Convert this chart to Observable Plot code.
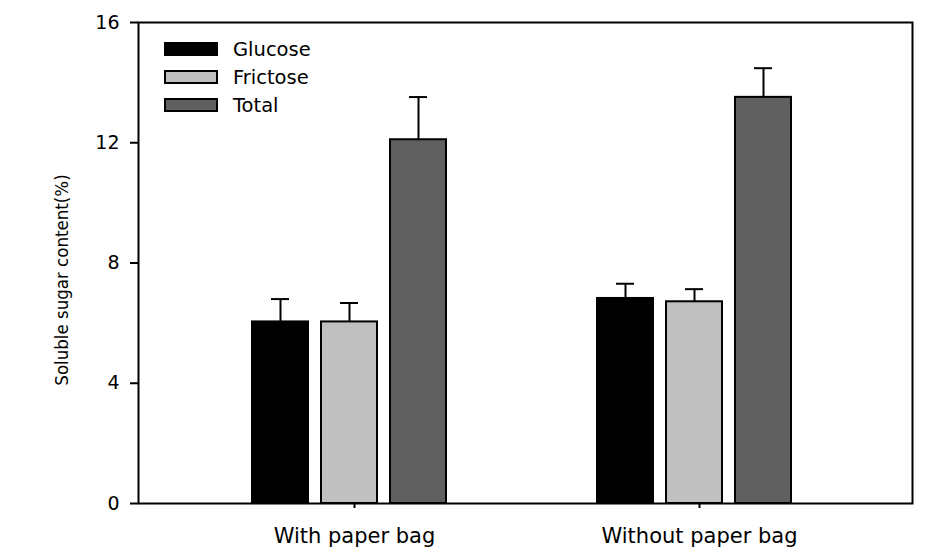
<!DOCTYPE html>
<html>
<head>
<meta charset="utf-8">
<script src="https://cdn.jsdelivr.net/npm/d3@7"></script>
<script src="https://cdn.jsdelivr.net/npm/@observablehq/plot@0.6"></script>
<style>
  html, body { margin: 0; padding: 0; background: #fff; }
  #wrap { position: relative; width: 934px; height: 556px; font-family: "DejaVu Sans", sans-serif; }
  #legend { position: absolute; left: 164px; top: 35px; }
  .item { display: flex; align-items: center; height: 28px; font-size: 19.5px; color: #000; }
  .sw { width: 54px; height: 14px; box-sizing: border-box; border: 2px solid #000; margin-right: 15px; }
</style>
</head>
<body>
<div id="wrap"></div>
<script>
const groups = ["With paper bag", "Without paper bag"];
const sugars = ["Glucose", "Frictose", "Total"];
const colors = ["#000000", "#c0c0c0", "#606060"];
const glucose = [6.04, 6.82];
const glucoseErr = [0.76, 0.49];
const frictose = [6.04, 6.71];
const frictoseErr = [0.63, 0.42];
const total = [12.1, 13.51];
const totalErr = [1.42, 0.97];
const yTicks = [0, 4, 8, 12, 16];
const yLabel = "Soluble sugar content(%)";

const seriesVals = [glucose, frictose, total];
const seriesErr = [glucoseErr, frictoseErr, totalErr];
const key = (g, s) => g + " | " + s;
const data = [];
groups.forEach((g, gi) => sugars.forEach((s, si) => {
  data.push({key: key(g, s), group: g, sugar: s, value: seriesVals[si][gi], err: seriesErr[si][gi]});
}));
// x domain: the bars of each group, with two empty slots between the groups
const xDomain = [
  ...sugars.map(s => key(groups[0], s)),
  "gap 1", "gap 2",
  ...sugars.map(s => key(groups[1], s))
];
const groupTicks = groups.map(g => key(g, "Frictose"));

const chart = Plot.plot({
  width: 934,
  height: 556,
  marginLeft: 138,
  marginRight: 22,
  marginTop: 22,
  marginBottom: 53,
  style: {fontFamily: "DejaVu Sans, sans-serif", color: "#000", background: "#fff"},
  x: {domain: xDomain, paddingInner: 0.194, paddingOuter: 1.66, align: 0.485, label: null},
  y: {domain: [0, 16], label: null},
  color: {domain: sugars, range: colors},
  marks: [
    Plot.barY(data, {x: "key", y: "value", fill: "sugar", stroke: "#000", strokeWidth: 2}),
    Plot.ruleX(data, {x: "key", y1: "value", y2: d => d.value + d.err, stroke: "#000", strokeWidth: 2}),
    Plot.tickY(data, {x: "key", y: d => d.value + d.err, stroke: "#000", strokeWidth: 2, insetLeft: 19, insetRight: 19}),
    Plot.axisY({ticks: yTicks, tickSize: 8, tickPadding: 11, fontSize: 19, label: null, strokeWidth: 2}),
    Plot.text([yLabel], {text: d => d, frameAnchor: "left", textAnchor: "middle", rotate: -90, dx: -76, dy: 17, fontSize: 18.5, fontFamily: "DejaVu Sans Condensed, DejaVu Sans, sans-serif", fill: "#000"}),
    Plot.axisX({ticks: groupTicks, tickFormat: k => k.split(" | ")[0], tickSize: 5, tickPadding: 20, fontSize: 21, dx: 5, label: null, strokeWidth: 2}),
    Plot.frame({stroke: "#000", strokeWidth: 2})
  ]
});

const wrap = document.getElementById("wrap");
wrap.appendChild(chart);
const legend = document.createElement("div");
legend.id = "legend";
sugars.forEach((s, i) => {
  const it = document.createElement("div");
  it.className = "item";
  const sw = document.createElement("div");
  sw.className = "sw";
  sw.style.background = colors[i];
  it.appendChild(sw);
  const t = document.createElement("span");
  t.textContent = s;
  it.appendChild(t);
  legend.appendChild(it);
});
wrap.appendChild(legend);
</script>
</body>
</html>
